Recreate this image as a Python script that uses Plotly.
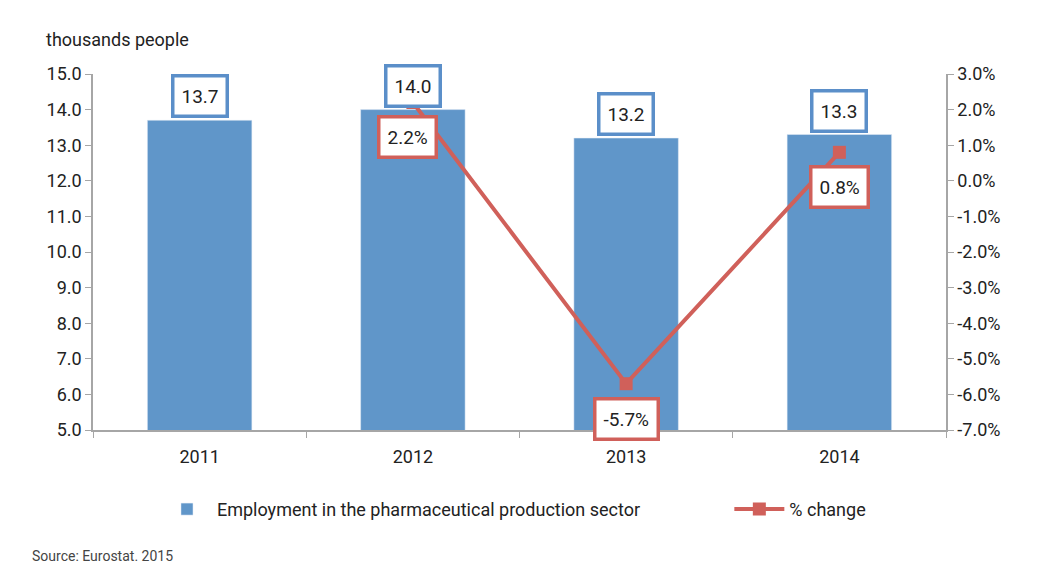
import plotly.graph_objects as go

years = ["2011", "2012", "2013", "2014"]
employment = [13.7, 14.0, 13.2, 13.3]
pct_years = ["2012", "2013", "2014"]
pct_change = [2.2, -5.7, 0.8]
left_ticks = [5, 6, 7, 8, 9, 10, 11, 12, 13, 14, 15]
right_ticks = [-7, -6, -5, -4, -3, -2, -1, 0, 1, 2, 3]

FONT = "Roboto, Liberation Sans, sans-serif"
BAR = "#6096C9"
BAR_BORDER = "#5B8FC9"
LINE = "#D0605A"
TXT = "#222222"
AX = "#A6A6A6"

fig = go.Figure()
fig.add_trace(go.Bar(x=years, y=employment, name="Employment in the pharmaceutical production sector",
                     marker_color=BAR, width=0.49, legend="legend"))
fig.add_trace(go.Scatter(x=pct_years, y=pct_change, name="% change", yaxis="y2",
                         mode="lines+markers", line=dict(color=LINE, width=4),
                         marker=dict(symbol="square", size=13, color=LINE), legend="legend2"))

annotations = []
for yr, v in zip(years, employment):
    annotations.append(dict(x=years.index(yr), y=v, xref="x", yref="y", text=f"{v:.1f}", showarrow=False,
                            yshift=24, font=dict(family=FONT, size=19, color=TXT),
                            bgcolor="white", bordercolor=BAR_BORDER, borderwidth=3.5, borderpad=7))
for yr, v in zip(pct_years, pct_change):
    xshift = -5 if yr == "2012" else 0
    annotations.append(dict(x=years.index(yr), y=v, xref="x", yref="y2", text=f"{v:.1f}%", showarrow=False,
                            yshift=-35, xshift=xshift, font=dict(family=FONT, size=19, color=TXT),
                            bgcolor="white", bordercolor=LINE, borderwidth=3.5, borderpad=7))
annotations.append(dict(x=-0.057, y=1.062, xref="paper", yref="paper", xanchor="left", yanchor="bottom",
                        text="thousands people", showarrow=False, font=dict(family=FONT, size=18, color=TXT)))
annotations.append(dict(x=-0.074, y=-0.354, xref="paper", yref="paper", xanchor="left", yanchor="middle",
                        text="Source: Eurostat. 2015", showarrow=False, font=dict(family=FONT, size=14, color="#444444")))

fig.update_layout(
    width=1055, height=576,
    margin=dict(l=85, r=117, t=66, b=154),
    paper_bgcolor="white", plot_bgcolor="white",
    font=dict(family=FONT, size=18, color=TXT),
    showlegend=True,
    legend=dict(orientation="h", x=0.075, y=-0.223, xanchor="left", yanchor="middle",
                font=dict(family=FONT, size=18, color=TXT), itemwidth=50),
    legend2=dict(orientation="h", x=0.746, y=-0.223, xanchor="left", yanchor="middle",
                 font=dict(family=FONT, size=18, color=TXT), itemwidth=50),
    xaxis=dict(type="category", range=[-0.5, 3.5], showline=True, linecolor=AX, linewidth=1.5,
               ticks="outside", tickson="boundaries", ticklen=6, tickcolor=AX, ticklabelstandoff=10,
               tickfont=dict(family=FONT, size=18, color=TXT), showgrid=False),
    yaxis=dict(range=[5, 15], tickvals=left_ticks, ticktext=[f"{v:.1f}" for v in left_ticks],
               showline=True, linecolor=AX, linewidth=1.5, ticks="outside", ticklen=6, tickcolor=AX,
               showgrid=False, zeroline=False, tickfont=dict(family=FONT, size=18, color=TXT)),
    yaxis2=dict(range=[-7, 3], tickvals=right_ticks, ticktext=[f"{v:.1f}%" for v in right_ticks],
                overlaying="y", side="right", showline=True, linecolor=AX, linewidth=1.5,
                ticks="outside", ticklen=6, tickcolor=AX, showgrid=False, zeroline=False,
                tickfont=dict(family=FONT, size=18, color=TXT)),
    annotations=annotations,
)

fig.write_html("out.html")
